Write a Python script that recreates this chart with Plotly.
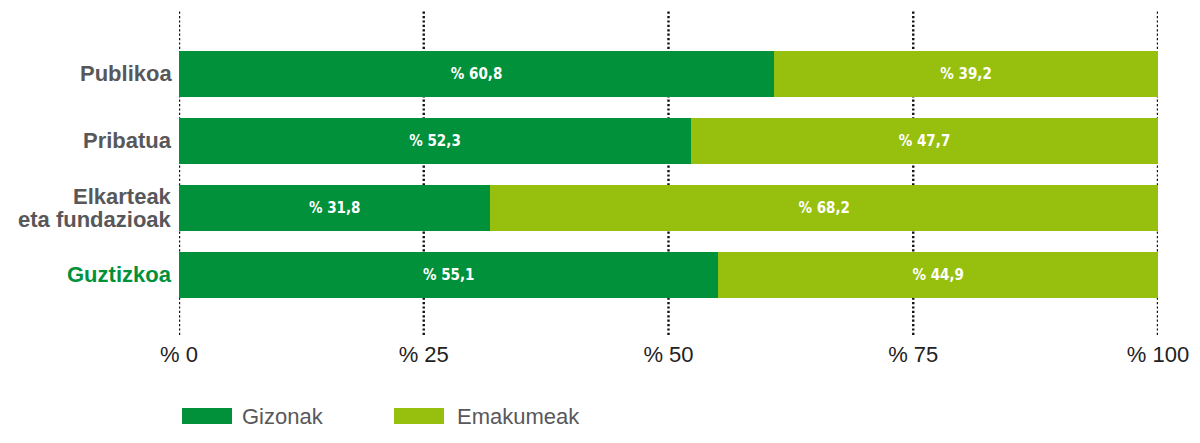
import plotly.graph_objects as go

# Data
categories = ["Publikoa", "Pribatua", "Elkarteak<br>eta fundazioak", "Guztizkoa"]
series_names = ["Gizonak", "Emakumeak"]
gizonak = [60.8, 52.3, 31.8, 55.1]
emakumeak = [39.2, 47.7, 68.2, 44.9]
x_ticks = [0, 25, 50, 75, 100]
x_tick_labels = ["% 0", "% 25", "% 50", "% 75", "% 100"]

colors = ["#00913A", "#97BF0D"]
label_colors = ["#58585A", "#58585A", "#58585A", "#00913A"]

W, H = 1200, 443
ML, MR, MT, MB = 179, 42, 10, 108
PW, PH = W - ML - MR, H - MT - MB


def fmt(v):
    return "% " + f"{v:.1f}".replace(".", ",")


fig = go.Figure()
for name, vals, col in zip(series_names, [gizonak, emakumeak], colors):
    fig.add_trace(go.Bar(
        y=categories, x=vals, orientation="h", name=name,
        marker=dict(color=col, line=dict(width=0)),
        text=[fmt(v) for v in vals],
        textposition="inside", insidetextanchor="middle", textangle=0,
        constraintext="none",
        textfont=dict(family="DejaVu Sans Condensed, DejaVu Sans, sans-serif",
                      size=15, color="white", weight="bold"),
        hoverinfo="skip",
    ))

# dotted vertical reference lines
for t in x_ticks:
    fig.add_shape(type="line", xref="x", yref="paper", x0=t, x1=t, y0=0, y1=1,
                  line=dict(color="#111111", width=2.4, dash="2.2px,2.2px"), layer="below")

# category labels, with tight line spacing for two-line names
LINE_GAP = 23
for cat, c in zip(categories, label_colors):
    lines = cat.split("<br>")
    n = len(lines)
    for i, ln in enumerate(lines):
        fig.add_annotation(xref="paper", yref="y", x=0, y=cat, xshift=-6,
                           yshift=((n - 1) / 2 - i) * LINE_GAP,
                           text=ln, showarrow=False, xanchor="right", yanchor="middle",
                           borderpad=0,
                           font=dict(family="Liberation Sans, Arial, sans-serif", size=22,
                                     color=c, weight="bold"))

# legend drawn as swatches + labels below the axis
def px_x(p):
    return (p - ML) / PW


def px_y(p):
    return (H - MB - p) / PH


legend_items = [(182, 240), (394, 455)]
for (sx, tx), name, col in zip(legend_items, series_names, colors):
    fig.add_shape(type="rect", xref="paper", yref="paper",
                  x0=px_x(sx), x1=px_x(sx + 50), y0=px_y(424), y1=px_y(408),
                  fillcolor=col, line=dict(width=0))
    fig.add_annotation(xref="paper", yref="paper", x=px_x(tx), y=px_y(416),
                       text=name, showarrow=False, xanchor="left", yanchor="middle",
                       font=dict(family="Liberation Sans, Arial, sans-serif", size=22,
                                 color="#58585A"))

fig.update_layout(
    width=W, height=H, barmode="stack", bargap=0.31,
    margin=dict(l=ML, r=MR, t=MT, b=MB),
    plot_bgcolor="white", paper_bgcolor="white",
    showlegend=False,
    xaxis=dict(range=[0, 100], tickvals=x_ticks, ticktext=x_tick_labels,
               showgrid=False, zeroline=False, showline=False, ticks="",
               tickfont=dict(family="Liberation Sans, Arial, sans-serif", size=22,
                             color="#222222"),
               ticklabelstandoff=4),
    yaxis=dict(categoryorder="array", categoryarray=categories[::-1],
               range=[-0.896, 3.955], showticklabels=False,
               showgrid=False, zeroline=False, showline=False, ticks=""),
)

fig.write_html("out.html")
